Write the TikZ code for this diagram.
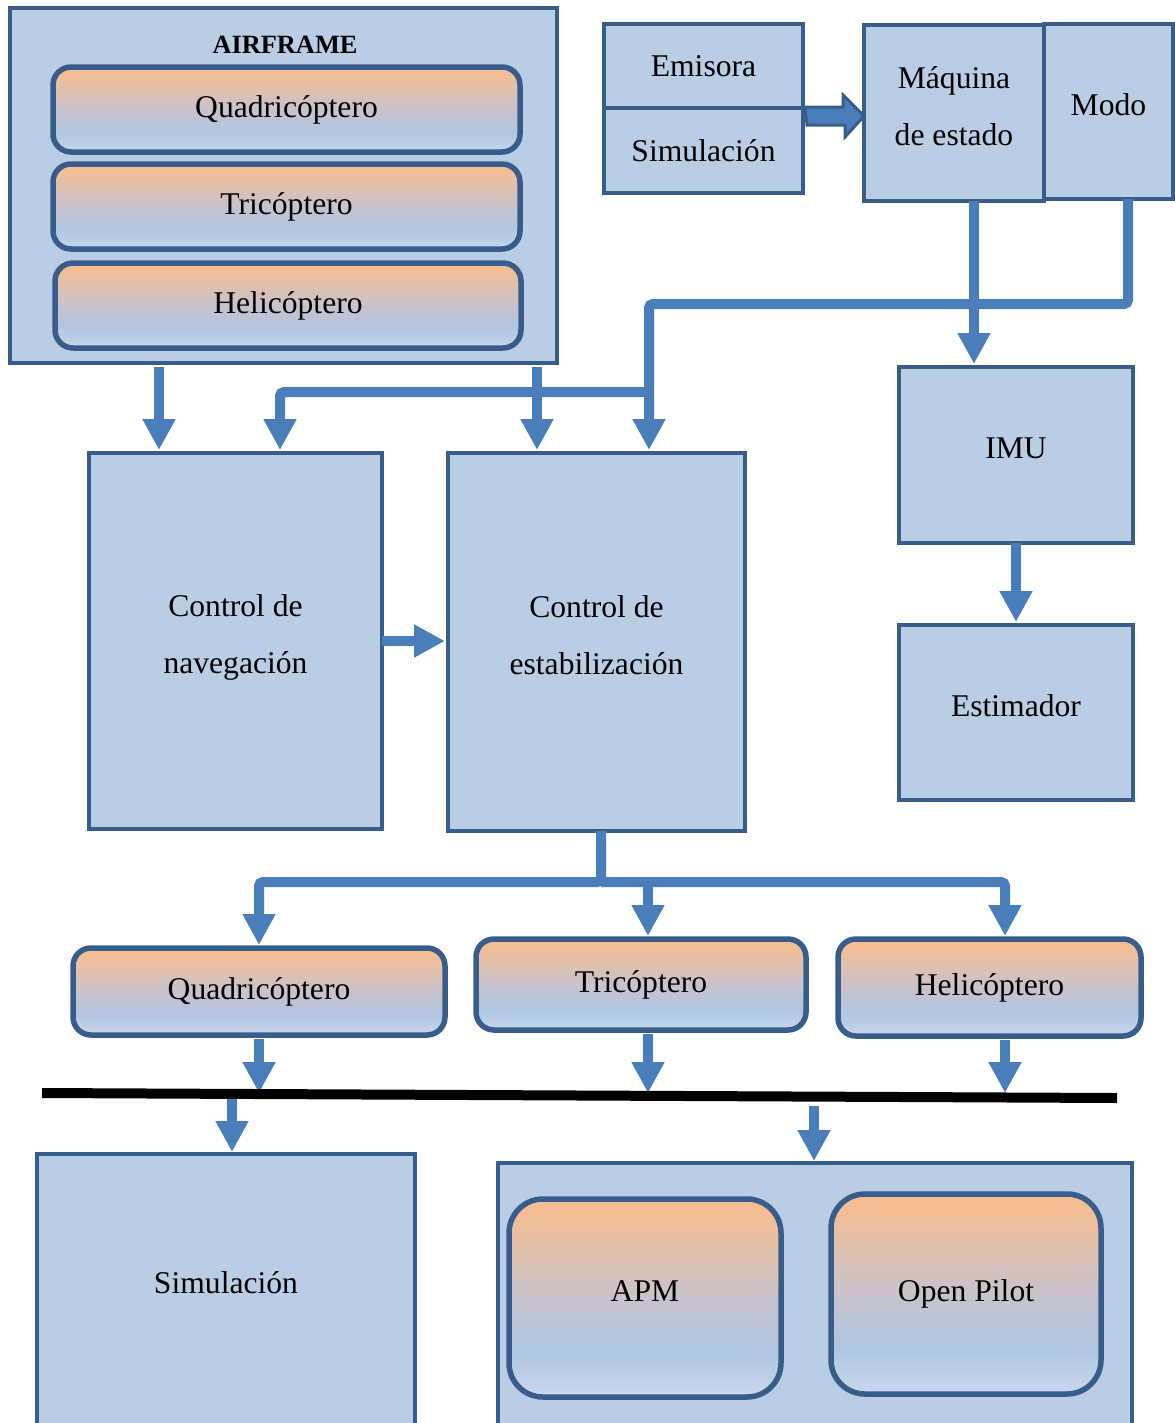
\documentclass[tikz,border=0pt]{standalone}
\usepackage{fontspec}
\setmainfont{Liberation Serif}
\usetikzlibrary{arrows.meta}
\usetikzlibrary{calc}
\definecolor{boxfill}{RGB}{185,205,229}
\definecolor{boxline}{RGB}{56,93,138}
\definecolor{flowblue}{RGB}{74,126,187}
\definecolor{peach}{RGB}{245,190,146}
\definecolor{greymid}{RGB}{200,195,204}
\definecolor{paleblue}{RGB}{176,198,226}
\definecolor{lowblue}{RGB}{199,214,235}
\pgfdeclareverticalshading{peachblue}{100bp}{color(0bp)=(lowblue); color(26bp)=(lowblue); color(36bp)=(paleblue); color(50bp)=(greymid); color(72bp)=(peach); color(100bp)=(peach)}
\tikzset{txt/.style = {font=\fontsize{18}{32}\selectfont, align=center},
         box/.style = {txt, draw=boxline, fill=boxfill, line width=0.09cm},
         rbox/.style = {txt, draw=boxline, shade, shading=peachblue, line width=0.11cm, rounded corners=0.36cm},
         sz/.style 2 args = {minimum width=#1*0.02cm, minimum height=#2*0.02cm, inner sep=0pt, outer sep=0pt},
         lift/.style = {execute at end node={\rule[-0.28cm]{0pt}{0pt}}},
         flow/.style = {draw=flowblue, line width=0.2cm, rounded corners=0.08cm,
                        -{Triangle[length=0.62cm, width=0.62cm]}},
         fat/.style = {draw=boxline, fill=flowblue, line width=0.06cm, line join=miter}}

\begin{document}
\begin{tikzpicture}[x=0.02cm, y=-0.02cm]
    \path[use as bounding box] (0,0) rectangle (1175,1423);
    \clip (0,0) rectangle (1175,1423);

    \node[box, sz={547}{355}, anchor=north west] (airframe) at (10,8) {};
    \node[font=\fontsize{15}{18}\selectfont\bfseries] (aftitle) at (285,45) {AIRFRAME};
    \node[rbox, sz={467}{85}, anchor=north west] (quadA) at (53,67) {Quadricóptero};
    \node[rbox, sz={467}{85}, anchor=north west] (triA) at (53,164) {Tricóptero};
    \node[rbox, sz={466}{85}, anchor=north west] (heliA) at (55,263) {Helicóptero};

    \node[box, sz={199}{84}, anchor=north west] (emi) at (604,24) {Emisora};
    \node[box, sz={199}{85}, anchor=north west] (simA) at (604,108) {Simulación};
    \node[box, lift, sz={180}{176}, anchor=north west] (maq) at (864,25) {Máquina\\de estado};
    \node[box, lift, sz={129}{175}, anchor=north west] (modo) at (1044,24) {Modo};

    \node[box, lift, sz={234}{176}, anchor=north west] (imu) at (899,367) {IMU};
    \node[box, lift, sz={234}{175}, anchor=north west] (estim) at (899,625) {Estimador};
    \node[box, lift, sz={293}{376}, anchor=north west] (nav) at (89,453) {Control de\\navegación};
    \node[box, lift, sz={297}{378}, anchor=north west] (estab) at (448,453) {Control de\\estabilización};

    \node[rbox, sz={372}{87}, anchor=north west] (quadB) at (73,948) {Quadricóptero};
    \node[rbox, sz={330}{91}, anchor=north west] (triB) at (476,939) {Tricóptero};
    \node[rbox, sz={303}{97}, anchor=north west] (heliB) at (838,939) {Helicóptero};

    \node[box, sz={378}{320}, anchor=north west] (simB) at (37,1154) {};
    \node[txt] (simBtext) at (226,1283) {Simulación};
    \node[box, sz={634}{320}, anchor=north west] (hw) at (498,1163) {};
    \node[rbox, lift, rounded corners=0.68cm, sz={272}{198}, anchor=north west] (apm) at (509,1199) {APM};
    \node[rbox, rounded corners=0.68cm, sz={270}{200}, anchor=north west] (opilot) at (831,1194) {Open Pilot};

    \coordinate (cA) at (159,0);
    \coordinate (cC) at (537,0);
    \coordinate (cE) at (974,0);
    \coordinate (cF) at (1128,0);
    \coordinate (q1) at (259,0);
    \coordinate (q2) at (648,0);
    \coordinate (q3) at (1005,0);
    \coordinate (s1) at (232,0);
    \coordinate (s2) at (814,0);
    \coordinate (j1) at (649,304);
    \coordinate (j2) at (280,392);
    \coordinate (j3) at (601,882);
    \coordinate (gl) at (42,1093);
    \coordinate (gr) at (1117,1098);
    \coordinate (fa) at (805,116);

    \filldraw[fat] (fa) ++(0,-9) -- ++(38,0) -- ++(0,-12) -- (fa -| maq.west)
        -- ++(-19,21) -- ++(0,-12) -- ++(-38,0) -- cycle;

    \draw[flow] ($(airframe.south -| cA)+(0,4)$) -- ($(nav.north -| cA)+(0,-3)$);
    \draw[flow] ($(airframe.south -| cC)+(0,4)$) -- ($(estab.north -| cC)+(0,-3)$);
    \draw[flow] (modo.south -| cF) |- (j1) -- ($(estab.north -| j1)+(0,-3)$);
    \draw[flow] (j1 |- j2) -| ($(nav.north -| j2)+(0,-3)$);
    \draw[flow] (maq.south -| cE) -- ($(imu.north -| cE)+(0,-3)$);
    \draw[flow] (imu.south) -- ($(estim.north)+(0,-3)$);
    \draw[flow] (nav.east) -- ($(nav.east -| estab.west)+(-3,0)$);

    \draw[flow] (estab.south -| j3) -- (j3) -| ($(quadB.north -| q1)+(0,-3)$);
    \draw[flow] (j3) -| ($(heliB.north -| q3)+(0,-3)$);
    \draw[flow] (j3 -| q2) -- ($(triB.north -| q2)+(0,-3)$);

    \draw[flow] ($(quadB.south -| q1)+(0,4)$) -- (q1 |- gl);
    \draw[flow] ($(triB.south -| q2)+(0,4)$) -- (q2 |- gl);
    \draw[flow] ($(heliB.south -| q3)+(0,4)$) -- (q3 |- gl);
    \draw[line width=0.2cm] (gl) -- (gr);
    \draw[flow] ($(s1 |- gl)+(0,6)$) -- ($(simB.north -| s1)+(0,-2)$);
    \draw[flow] ($(s2 |- gr)+(0,8)$) -- ($(hw.north -| s2)+(0,-2)$);
  \end{tikzpicture}
\end{document}
